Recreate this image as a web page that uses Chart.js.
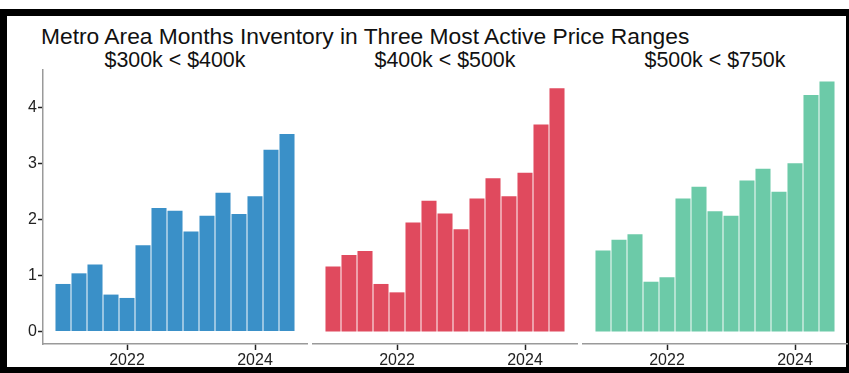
<!DOCTYPE html>
<html>
<head>
<meta charset="utf-8">
<script src="https://cdn.jsdelivr.net/npm/chart.js@4.4.1/dist/chart.umd.min.js"></script>
<style>
  body { margin: 0; width: 849px; height: 373px; position: relative; overflow: hidden; background: #fff;
         font-family: "Liberation Sans", Arial, sans-serif; }
  #frame { position: absolute; left: 0; top: 9px; width: 849px; height: 364px; box-sizing: border-box;
           border: solid #000; border-width: 7px 3px 6px 7px; }
  #title { position: absolute; left: 41px; top: 23px; font-size: 22.8px; line-height: 26px; color: #111; white-space: nowrap; }
  .sub { position: absolute; top: 47px; width: 264px; text-align: center; font-size: 21.4px; line-height: 26px; color: #111; white-space: nowrap; }
  .panel { position: absolute; top: 69px; height: 298px; }
</style>
</head>
<body>
<div id="frame"></div>
<div id="title">Metro Area Months Inventory in Three Most Active Price Ranges</div>
<div class="sub" style="left:43px">$300k &lt; $400k</div>
<div class="sub" style="left:313px">$400k &lt; $500k</div>
<div class="sub" style="left:583px">$500k &lt; $750k</div>
<div class="panel" style="left:7px;width:303px"><canvas id="p1"></canvas></div>
<div class="panel" style="left:310px;width:270px"><canvas id="p2"></canvas></div>
<div class="panel" style="left:580px;width:269px"><canvas id="p3"></canvas></div>
<script>
// quarters, one bar each
const quarters = ['2021-01', '2021-04', '2021-07', '2021-10',
                  '2022-01', '2022-04', '2022-07', '2022-10',
                  '2023-01', '2023-04', '2023-07', '2023-10',
                  '2024-01', '2024-04', '2024-07'];
const yearTicks = ['2022', '2024'];
const yTicks = [0, 1, 2, 3, 4];

// months of inventory
const range300to400 = [0.85, 1.04, 1.20, 0.66, 0.60, 1.54, 2.21, 2.16, 1.79, 2.07, 2.48, 2.10, 2.42, 3.25, 3.53];
const range400to500 = [1.16, 1.37, 1.44, 0.85, 0.70, 1.95, 2.34, 2.11, 1.83, 2.38, 2.74, 2.42, 2.84, 3.70, 4.35];
const range500to750 = [1.45, 1.64, 1.74, 0.89, 0.97, 2.38, 2.59, 2.15, 2.07, 2.70, 2.91, 2.50, 3.01, 4.23, 4.47];

const allMax = Math.max(...range300to400, ...range400to500, ...range500to750);
const yPad = allMax * 0.05;

function makePanel(id, values, color, showY, padL, padR) {
    let ctx = document.getElementById(id).getContext('2d');
    let data = values.map(function(v, i) { return { x: i, y: v }; });
    let xPad = quarters.length * 0.05;
    return new Chart(ctx, {
        type: 'bar',
        data: { datasets: [{ data: data, backgroundColor: color, borderWidth: 0,
                             barPercentage: 0.94, categoryPercentage: 1 }] },
        options: {
            responsive: true, maintainAspectRatio: false, animation: false,
            layout: { padding: { left: padL, right: padR, top: 0, bottom: 0 } },
            plugins: { legend: { display: false }, tooltip: { enabled: false } },
            scales: {
                x: {
                    type: 'linear', offset: false,
                    min: -0.5 - xPad, max: quarters.length - 0.5 + xPad,
                    afterBuildTicks: function(s) {
                        s.ticks = yearTicks.map(function(y) { return { value: quarters.indexOf(y + '-01') }; });
                    },
                    afterFit: function(s) { s.height = 23; s.paddingLeft = 0; s.paddingRight = 0; },
                    ticks: {
                        autoSkip: false, maxRotation: 0, padding: 1, color: '#222',
                        font: { family: 'Liberation Sans', size: 16 },
                        callback: function(v) { return quarters[v].slice(0, 4); }
                    },
                    grid: { offset: false, drawOnChartArea: false, drawTicks: true, tickLength: 6, tickColor: '#222', tickWidth: 1.5 },
                    border: { display: true, color: '#9a9a9a', width: 1.5 }
                },
                y: {
                    display: showY,
                    min: -yPad, max: allMax + yPad,
                    afterBuildTicks: function(s) { s.ticks = yTicks.map(function(v) { return { value: v }; }); },
                    afterFit: function(s) { s.width = showY ? 36 : 0; s.paddingTop = 0; s.paddingBottom = 0; },
                    ticks: { padding: 1, color: '#222', font: { family: 'Liberation Sans', size: 16 } },
                    grid: { drawOnChartArea: false, drawTicks: true, tickLength: 5, tickColor: '#222', tickWidth: 1.5 },
                    border: { display: true, color: '#9a9a9a', width: 1.5 }
                }
            }
        }
    });
}

makePanel('p1', range300to400, '#3a90c8', true, 0, 3);
makePanel('p2', range400to500, '#e04a5e', false, 3, 3);
makePanel('p3', range500to750, '#6ccaa8', false, 3, 2);
</script>
</body>
</html>
